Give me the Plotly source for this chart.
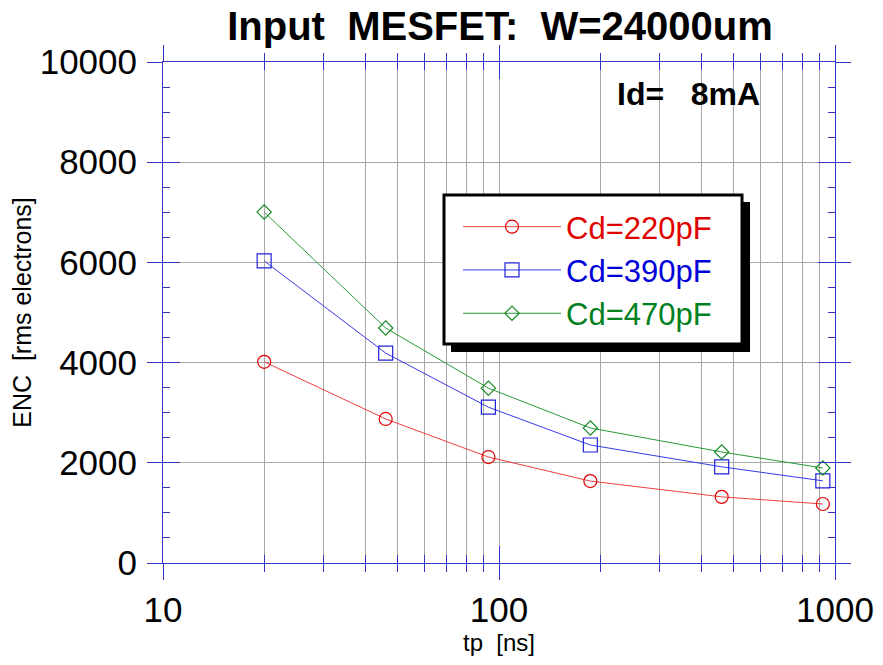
import plotly.graph_objects as go

# ---- data ----
tp_ns = [20, 46, 93, 187, 460, 920]
enc_220 = [4015, 2875, 2115, 1635, 1320, 1178]
enc_390 = [6030, 4190, 3110, 2355, 1920, 1640]
enc_470 = [7005, 4690, 3490, 2695, 2216, 1896]
series_names = ["Cd=220pF", "Cd=390pF", "Cd=470pF"]
x_major_ticks = [10, 100, 1000]
x_tick_labels = ["10", "100", "1000"]
x_minor_ticks = [20, 30, 40, 50, 60, 70, 80, 90, 200, 300, 400, 500, 600, 700, 800, 900]
y_ticks = [0, 2000, 4000, 6000, 8000, 10000]
y_tick_labels = ["0", "2000", "4000", "6000", "8000", "10000"]

FONT = "Liberation Sans, Arial, sans-serif"
AX = "#3535c8"
GRID = "#a8a8a8"

W, H = 883, 665
L, R, T, B = 163, 835, 62, 563


def px_x(p):
    return (p - L) / (R - L)


def px_y(p):
    return (B - p) / (B - T)


line_cols = ["#ee4040", "#3838e8", "#2a9a3a"]
mark_cols = ["#e00000", "#2020d8", "#1a8a2a"]
text_cols = ["#e00000", "#0000d8", "#008020"]
symbols = ["circle-open", "square-open", "diamond-open"]
sizes = [13, 14, 11]

fig = go.Figure()
for vals, name, lc, mc, tc, sym, sz in zip(
    [enc_220, enc_390, enc_470], series_names, line_cols, mark_cols, text_cols, symbols, sizes
):
    fig.add_trace(
        go.Scatter(
            x=tp_ns,
            y=vals,
            mode="lines+markers",
            name=f'<span style="color:{tc}">{name}</span>',
            line=dict(color=lc, width=1),
            marker=dict(symbol=sym, size=sz, color=mc, line=dict(width=1.2, color=mc)),
        )
    )

# invisible trace for overlay axes
fig.add_trace(go.Scatter(x=[10], y=[0], xaxis="x2", yaxis="y2", mode="markers",
                         marker=dict(opacity=0), showlegend=False, hoverinfo="skip"))

common_font = dict(family=FONT, size=35, color="black")

fig.update_layout(
    width=W,
    height=H,
    margin=dict(l=L, r=W - R, t=T, b=H - B, autoexpand=False),
    paper_bgcolor="white",
    plot_bgcolor="white",
    font=dict(family=FONT, color="black"),
    title=dict(
        text="Input\u00a0\u00a0MESFET:\u00a0\u00a0W=24000um",
        x=px_x(500), xref="paper", xanchor="center",
        y=1 - 26 / H, yref="container", yanchor="middle",
        font=dict(family=FONT, size=40, color="black", weight="bold"),
    ),
    xaxis=dict(
        type="log",
        range=[1, 3],
        tickvals=x_major_ticks,
        ticktext=x_tick_labels,
        ticks="outside",
        ticklen=16,
        tickcolor=AX,
        tickwidth=1,
        showline=True,
        linecolor=AX,
        linewidth=1,
        mirror="ticks",
        showgrid=True,
        gridcolor=GRID,
        gridwidth=1,
        zeroline=False,
        automargin=False,
        tickfont=common_font,
        minor=dict(tickvals=x_minor_ticks, ticks="outside", ticklen=8, tickcolor=AX,
                   showgrid=True, gridcolor=GRID, gridwidth=1),
        title=dict(text="tp\u00a0\u00a0[ns]", font=dict(family=FONT, size=24, color="black"), standoff=6),
    ),
    yaxis=dict(
        range=[0, 10000],
        tickvals=y_ticks,
        ticktext=y_tick_labels,
        ticks="outside",
        ticklen=15,
        tickcolor=AX,
        showline=True,
        linecolor=AX,
        linewidth=1,
        mirror="ticks",
        showgrid=True,
        gridcolor=GRID,
        zeroline=False,
        automargin=False,
        tickfont=common_font,
        ticklabelstandoff=3,
        title=dict(text="ENC\u00a0\u00a0[rms electrons]", font=dict(family=FONT, size=25, color="black"), standoff=0),
    ),
    xaxis2=dict(
        type="log", range=[1, 3], overlaying="x", anchor="y2", side="bottom", automargin=False,
        tickvals=x_major_ticks, ticks="inside", ticklen=17, tickcolor=AX,
        showticklabels=False, showgrid=False, showline=True, linecolor=AX, mirror="ticks", zeroline=False,
        minor=dict(tickvals=x_minor_ticks, ticks="inside", ticklen=8, tickcolor=AX, showgrid=False),
    ),
    yaxis2=dict(
        range=[0, 10000], overlaying="y", anchor="x2", side="left", automargin=False,
        tickvals=y_ticks, ticks="inside", ticklen=17, tickcolor=AX,
        showticklabels=False, showgrid=False, showline=True, linecolor=AX, mirror="ticks", zeroline=False,
        minor=dict(dtick=500, ticks="inside", ticklen=7, tickcolor=AX, showgrid=False),
    ),
    legend=dict(
        x=px_x(458), y=px_y(200), xanchor="left", yanchor="top",
        xref="paper", yref="paper",
        bgcolor="rgba(0,0,0,0)", borderwidth=0,
        font=dict(family=FONT, size=31),
        itemwidth=98,
        tracegroupgap=0,
    ),
    showlegend=True,
)

# legend frame with drop shadow
fig.add_shape(type="rect", xref="paper", yref="paper",
              x0=px_x(451), x1=px_x(750), y0=px_y(352), y1=px_y(202),
              fillcolor="black", line=dict(width=0), layer="above")
fig.add_shape(type="rect", xref="paper", yref="paper",
              x0=px_x(444), x1=px_x(742), y0=px_y(344), y1=px_y(195),
              fillcolor="white", line=dict(color="black", width=3), layer="above")

fig.add_annotation(
    text="<b>Id=\u00a0\u00a0\u00a08mA</b>", xref="paper", yref="paper",
    x=px_x(688), y=px_y(94), xanchor="center", yanchor="middle", showarrow=False,
    font=dict(family=FONT, size=32, color="black"),
)

fig.write_html("out.html", config={"displayModeBar": False},
               post_script="document.body.style.margin='0';")
